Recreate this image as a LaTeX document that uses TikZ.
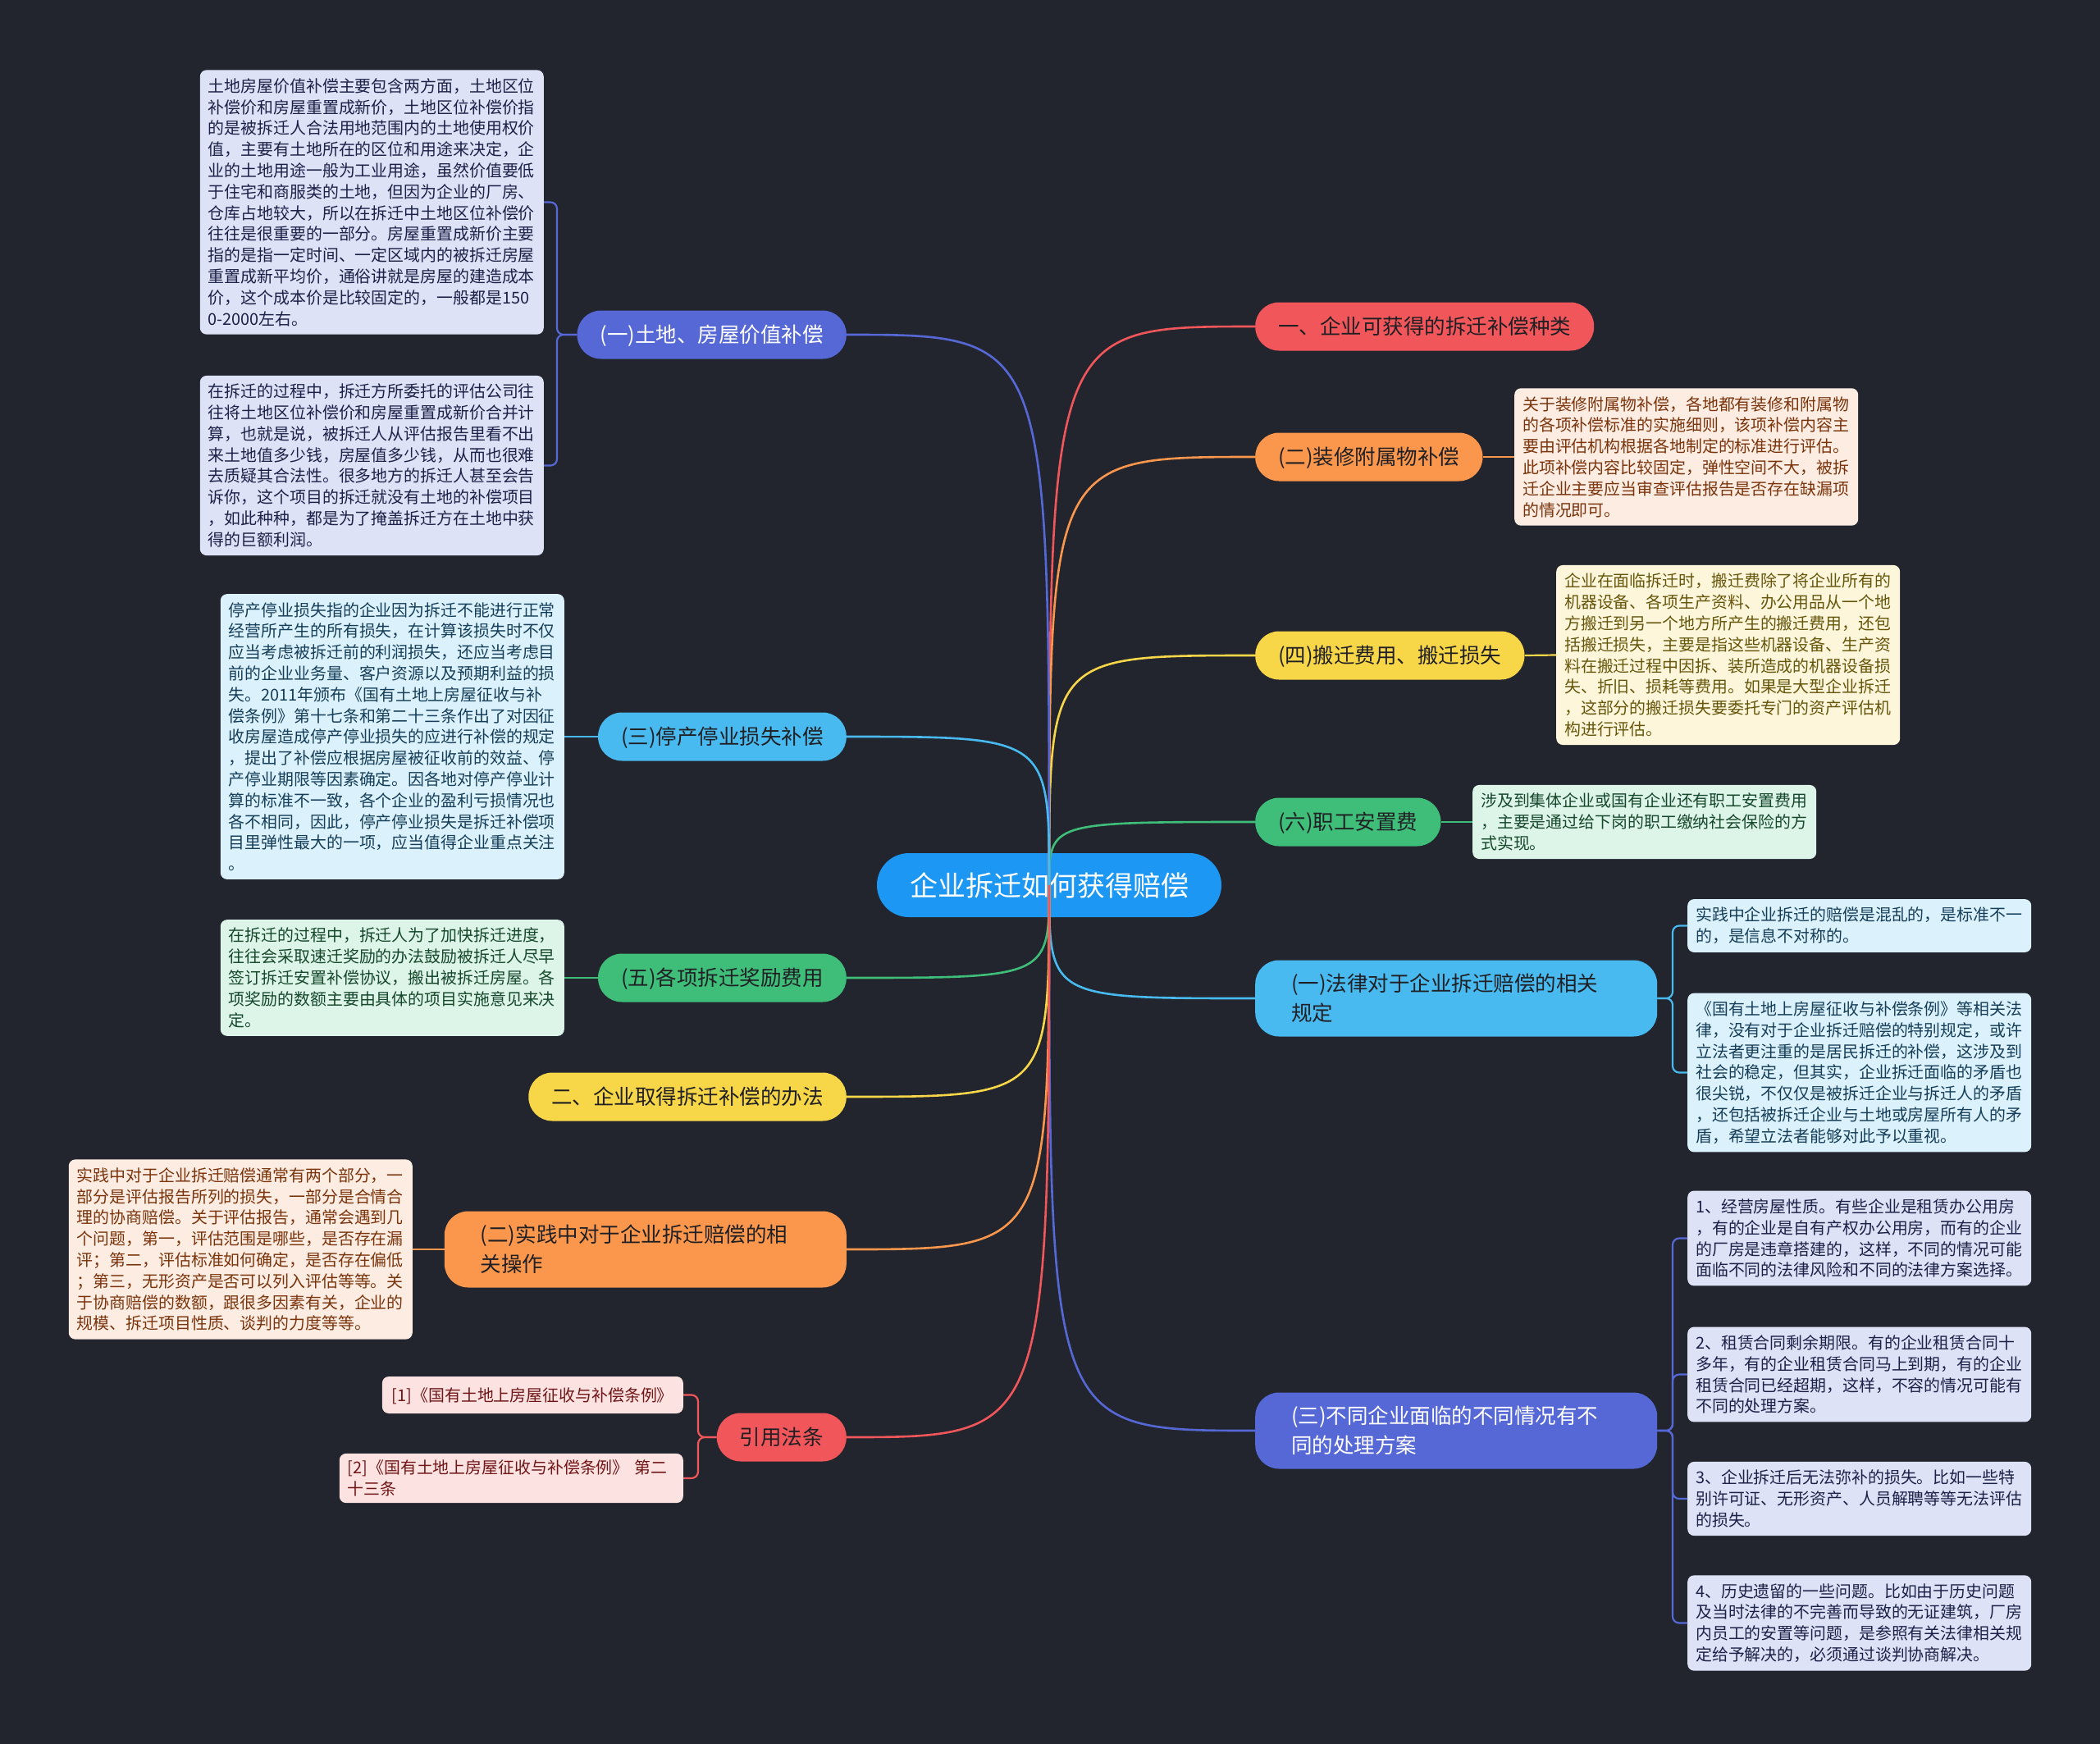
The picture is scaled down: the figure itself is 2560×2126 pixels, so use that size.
\documentclass[tikz,border=0pt]{standalone}
\usepackage{fontspec}
\setmainfont{Noto Sans CJK SC}
\usetikzlibrary{calc}
\definecolor{bg}{RGB}{34,37,46}
\definecolor{cRoot}{RGB}{28,151,243}
\definecolor{cRed}{RGB}{240,86,90}
\definecolor{cOrange}{RGB}{250,151,77}
\definecolor{cYellow}{RGB}{247,214,72}
\definecolor{cGreen}{RGB}{63,190,122}
\definecolor{cLBlue}{RGB}{72,186,240}
\definecolor{cIndigo}{RGB}{86,104,214}
\definecolor{fIndigo}{RGB}{222,226,246}
\definecolor{tIndigo}{RGB}{28,33,72}
\definecolor{fLBlue}{RGB}{219,242,253}
\definecolor{tLBlue}{RGB}{22,62,88}
\definecolor{fGreen}{RGB}{221,244,232}
\definecolor{tGreen}{RGB}{22,72,44}
\definecolor{fOrange}{RGB}{253,236,226}
\definecolor{tOrange}{RGB}{122,52,12}
\definecolor{fYellow}{RGB}{253,246,218}
\definecolor{tYellow}{RGB}{102,86,12}
\definecolor{fRed}{RGB}{253,226,226}
\definecolor{tRed}{RGB}{112,22,22}
\definecolor{tDark}{RGB}{32,32,36}
\tikzset{
  rootnode/.style={fill=cRoot, text=white, rounded corners=39pt, minimum width=420pt, minimum height=78pt,
    inner xsep=20pt, inner ysep=0pt, font=\fontsize{34pt}{40pt}\selectfont, text height=29.5pt, text depth=3.5pt},
  mainnode/.style={rounded corners=29pt, minimum height=59pt, inner xsep=28pt, inner ysep=0pt,
    font=\fontsize{25.5pt}{30pt}\selectfont, text height=22.2pt, text depth=2.8pt},
  mainnode2/.style={rounded corners=29pt, minimum height=93pt, inner xsep=44pt, inner ysep=0pt, text width=402pt, align=left,
    font=\fontsize{25.5pt}{36pt}\selectfont},
  leafnode/.style={rounded corners=8pt, inner xsep=10pt, inner ysep=10pt, text width=399pt, align=left,
    font=\fontsize{19.9pt}{25.8pt}\selectfont},
  leafshort/.style={rounded corners=8pt, inner xsep=12pt, inner ysep=0pt, minimum height=45pt,
    font=\fontsize{19.9pt}{25.8pt}\selectfont, text height=17.3pt, text depth=2.2pt},
  conn/.style={line width=2.6pt},
  leafconn/.style={line width=2.2pt, rounded corners=8pt},
}
\begin{document}
\begin{tikzpicture}[x=1pt,y=-1pt]
\fill[bg] (0,0) rectangle (2560,2126);
\useasboundingbox (0,0) rectangle (2560,2126);

% ---------- main nodes, right side
\node[mainnode, fill=cRed, text=tDark, anchor=west] (m1) at (1530,398) {一、企业可获得的拆迁补偿种类};
\node[mainnode, fill=cOrange, text=tDark, anchor=west] (m2) at (1530,557) {(二)装修附属物补偿};
\node[mainnode, fill=cYellow, text=tDark, anchor=west] (m3) at (1530,799) {(四)搬迁费用、搬迁损失};
\node[mainnode, fill=cGreen, text=tDark, anchor=west] (m4) at (1530,1002) {(六)职工安置费};
\node[mainnode2, fill=cLBlue, text=tDark, anchor=west] (m5) at (1530,1217) {(一)法律对于企业拆迁赔偿的相关\\规定};
\node[mainnode2, fill=cIndigo, text=white, anchor=west] (m6) at (1530,1744) {(三)不同企业面临的不同情况有不\\同的处理方案};

% ---------- main nodes, left side
\node[mainnode, fill=cIndigo, text=white, anchor=east] (n1) at (1032,408) {(一)土地、房屋价值补偿};
\node[mainnode, fill=cLBlue, text=tDark, anchor=east] (n2) at (1032,898) {(三)停产停业损失补偿};
\node[mainnode, fill=cGreen, text=tDark, anchor=east] (n3) at (1032,1192) {(五)各项拆迁奖励费用};
\node[mainnode, fill=cYellow, text=tDark, anchor=east] (n4) at (1032,1337) {二、企业取得拆迁补偿的办法};
\node[mainnode2, fill=cOrange, text=tDark, anchor=east] (n5) at (1032,1523) {(二)实践中对于企业拆迁赔偿的相\\关操作};
\node[mainnode, fill=cRed, text=tDark, anchor=east] (n6) at (1032,1752) {引用法条};

% ---------- root
\node[rootnode] (root) at (1279,1079) {企业拆迁如何获得赔偿};

% ---------- root connectors
\foreach \n/\c in {m1/cRed, m2/cOrange, m3/cYellow, m4/cGreen, m5/cLBlue, m6/cIndigo}{
  \draw[conn, \c] (root.center) .. controls (root.center |- \n.west) .. (\n.west);
}
\foreach \n/\c in {n1/cIndigo, n2/cLBlue, n3/cGreen, n4/cYellow, n5/cOrange, n6/cRed}{
  \draw[conn, \c] (root.center) .. controls (root.center |- \n.east) .. (\n.east);
}

% ---------- leaves, left side
\node[leafnode, fill=fIndigo, text=tIndigo, anchor=east] (l1) at (663,246.5) {土地房屋价值补偿主要包含两方面，土地区位\\补偿价和房屋重置成新价，土地区位补偿价指\\的是被拆迁人合法用地范围内的土地使用权价\\值，主要有土地所在的区位和用途来决定，企\\业的土地用途一般为工业用途，虽然价值要低\\于住宅和商服类的土地，但因为企业的厂房、\\仓库占地较大，所以在拆迁中土地区位补偿价\\往往是很重要的一部分。房屋重置成新价主要\\指的是指一定时间、一定区域内的被拆迁房屋\\重置成新平均价，通俗讲就是房屋的建造成本\\价，这个成本价是比较固定的，一般都是150\\0-2000左右。};
\node[leafnode, fill=fIndigo, text=tIndigo, anchor=east] (l2) at (663,567.5) {在拆迁的过程中，拆迁方所委托的评估公司往\\往将土地区位补偿价和房屋重置成新价合并计\\算，也就是说，被拆迁人从评估报告里看不出\\来土地值多少钱，房屋值多少钱，从而也很难\\去质疑其合法性。很多地方的拆迁人甚至会告\\诉你，这个项目的拆迁就没有土地的补偿项目\\，如此种种，都是为了掩盖拆迁方在土地中获\\得的巨额利润。};
\node[leafnode, fill=fLBlue, text=tLBlue, anchor=east] (l3) at (688,898) {停产停业损失指的企业因为拆迁不能进行正常\\经营所产生的所有损失，在计算该损失时不仅\\应当考虑被拆迁前的利润损失，还应当考虑目\\前的企业业务量、客户资源以及预期利益的损\\失。2011年颁布《国有土地上房屋征收与补\\偿条例》第十七条和第二十三条作出了对因征\\收房屋造成停产停业损失的应进行补偿的规定\\，提出了补偿应根据房屋被征收前的效益、停\\产停业期限等因素确定。因各地对停产停业计\\算的标准不一致，各个企业的盈利亏损情况也\\各不相同，因此，停产停业损失是拆迁补偿项\\目里弹性最大的一项，应当值得企业重点关注\\。};
\node[leafnode, fill=fGreen, text=tGreen, anchor=east] (l4) at (688,1192) {在拆迁的过程中，拆迁人为了加快拆迁进度，\\往往会采取速迁奖励的办法鼓励被拆迁人尽早\\签订拆迁安置补偿协议，搬出被拆迁房屋。各\\项奖励的数额主要由具体的项目实施意见来决\\定。};
\node[leafnode, fill=fOrange, text=tOrange, anchor=east] (l5) at (503,1523) {实践中对于企业拆迁赔偿通常有两个部分，一\\部分是评估报告所列的损失，一部分是合情合\\理的协商赔偿。关于评估报告，通常会遇到几\\个问题，第一，评估范围是哪些，是否存在漏\\评；第二，评估标准如何确定，是否存在偏低\\；第三，无形资产是否可以列入评估等等。关\\于协商赔偿的数额，跟很多因素有关，企业的\\规模、拆迁项目性质、谈判的力度等等。};
\node[leafshort, fill=fRed, text=tRed, anchor=east] (l6) at (833,1700.5) {[1]《国有土地上房屋征收与补偿条例》};
\node[leafnode, fill=fRed, text=tRed, anchor=east, inner ysep=8pt] (l7) at (833,1802) {[2]《国有土地上房屋征收与补偿条例》 第二\\十三条};

% ---------- leaves, right side
\node[leafnode, fill=fOrange, text=tOrange, anchor=west] (r1) at (1846,557) {关于装修附属物补偿，各地都有装修和附属物\\的各项补偿标准的实施细则，该项补偿内容主\\要由评估机构根据各地制定的标准进行评估。\\此项补偿内容比较固定，弹性空间不大，被拆\\迁企业主要应当审查评估报告是否存在缺漏项\\的情况即可。};
\node[leafnode, fill=fYellow, text=tYellow, anchor=west] (r2) at (1897,798.5) {企业在面临拆迁时，搬迁费除了将企业所有的\\机器设备、各项生产资料、办公用品从一个地\\方搬迁到另一个地方所产生的搬迁费用，还包\\括搬迁损失，主要是指这些机器设备、生产资\\料在搬迁过程中因拆、装所造成的机器设备损\\失、折旧、损耗等费用。如果是大型企业拆迁\\，这部分的搬迁损失要委托专门的资产评估机\\构进行评估。};
\node[leafnode, fill=fGreen, text=tGreen, anchor=west] (r3) at (1795,1002) {涉及到集体企业或国有企业还有职工安置费用\\，主要是通过给下岗的职工缴纳社会保险的方\\式实现。};
\node[leafnode, fill=fLBlue, text=tLBlue, anchor=west] (r4) at (2057,1128.5) {实践中企业拆迁的赔偿是混乱的，是标准不一\\的，是信息不对称的。};
\node[leafnode, fill=fLBlue, text=tLBlue, anchor=west] (r5) at (2057,1307.5) {《国有土地上房屋征收与补偿条例》等相关法\\律，没有对于企业拆迁赔偿的特别规定，或许\\立法者更注重的是居民拆迁的补偿，这涉及到\\社会的稳定，但其实，企业拆迁面临的矛盾也\\很尖锐，不仅仅是被拆迁企业与拆迁人的矛盾\\，还包括被拆迁企业与土地或房屋所有人的矛\\盾，希望立法者能够对此予以重视。};
\node[leafnode, fill=fIndigo, text=tIndigo, anchor=west] (r6) at (2057,1509.5) {1、经营房屋性质。有些企业是租赁办公用房\\，有的企业是自有产权办公用房，而有的企业\\的厂房是违章搭建的，这样，不同的情况可能\\面临不同的法律风险和不同的法律方案选择。};
\node[leafnode, fill=fIndigo, text=tIndigo, anchor=west] (r7) at (2057,1675.5) {2、租赁合同剩余期限。有的企业租赁合同十\\多年，有的企业租赁合同马上到期，有的企业\\租赁合同已经超期，这样，不容的情况可能有\\不同的处理方案。};
\node[leafnode, fill=fIndigo, text=tIndigo, anchor=west] (r8) at (2057,1827) {3、企业拆迁后无法弥补的损失。比如一些特\\别许可证、无形资产、人员解聘等等无法评估\\的损失。};
\node[leafnode, fill=fIndigo, text=tIndigo, anchor=west] (r9) at (2057,1978.5) {4、历史遗留的一些问题。比如由于历史问题\\及当时法律的不完善而导致的无证建筑，厂房\\内员工的安置等问题，是参照有关法律相关规\\定给予解决的，必须通过谈判协商解决。};

% ---------- trunk x-positions for bracket connectors
\coordinate (tn1) at (679,0);
\coordinate (tn6) at (851,0);
\coordinate (tm5) at (2039,0);
\coordinate (tm6) at (2039,0);

% ---------- leaf connectors, single (straight)
\draw[leafconn, cLBlue] (n2.west) -- (l3.east);
\draw[leafconn, cGreen] (n3.west) -- (l4.east);
\draw[leafconn, cOrange] (n5.west) -- (l5.east);
\draw[leafconn, cOrange] (m2.east) -- (r1.west);
\draw[leafconn, cYellow] (m3.east) -- (r2.west);
\draw[leafconn, cGreen] (m4.east) -- (r3.west);
% ---------- leaf connectors, brackets, left
\foreach \p/\l/\c in {n1/l1/cIndigo, n1/l2/cIndigo, n6/l6/cRed, n6/l7/cRed}{
  \draw[leafconn, \c] (\p.west) -- (t\p |- \p.west) -- (t\p |- \l.east) -- (\l.east);
}
% ---------- leaf connectors, brackets, right
\foreach \p/\l/\c in {m5/r4/cLBlue, m5/r5/cLBlue, m6/r6/cIndigo, m6/r7/cIndigo, m6/r8/cIndigo, m6/r9/cIndigo}{
  \draw[leafconn, \c] (\p.east) -- (t\p |- \p.east) -- (t\p |- \l.west) -- (\l.west);
}
\end{tikzpicture}
\end{document}
